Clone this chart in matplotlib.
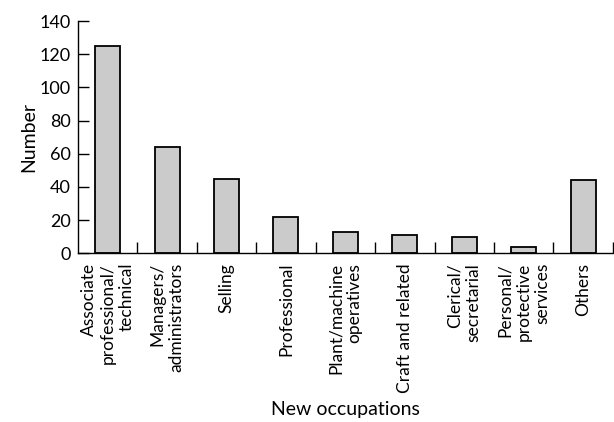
import matplotlib.pyplot as plt

plt.rcParams['font.family'] = ['Lato', 'DejaVu Sans']

occupations = ["Associate\nprofessional/\ntechnical", "Managers/\nadministrators",
               "Selling", "Professional", "Plant/machine\noperatives",
               "Craft and related", "Clerical/\nsecretarial",
               "Personal/\nprotective\nservices", "Others"]
counts = [125, 64, 45, 22, 12.5, 11, 10, 4, 44]

fig = plt.figure(figsize=(6.14, 4.22), dpi=100)
ax = fig.add_axes([0.127, 0.40, 0.871, 0.55])

x = list(range(len(counts)))
ax.bar(x, counts, width=0.42, color='#cbcbcb', edgecolor='black', linewidth=1.3)

ax.set_xlim(-0.5, len(counts) - 0.5)
ax.set_ylim(0, 140)
ax.set_yticks(range(0, 141, 20))

ax.set_xticks(x)
ax.set_xticklabels(occupations, rotation=90, va='top', ha='center',
                   multialignment='right', fontsize=12.5, linespacing=1.2)
ax.set_xticks([i + 0.5 for i in x], minor=True)
ax.tick_params(axis='x', which='major', length=0, pad=7)
ax.tick_params(axis='x', which='minor', direction='in', length=8, width=1)
ax.tick_params(axis='y', direction='in', length=8, width=1, labelsize=13, pad=5)

for s in ['top', 'right']:
    ax.spines[s].set_visible(False)
for s in ['left', 'bottom']:
    ax.spines[s].set_linewidth(1)

ax.set_ylabel("Number", fontsize=14, labelpad=2)
ax.set_xlabel("New occupations", fontsize=14, labelpad=6)

fig.savefig("out.png", dpi=100)
